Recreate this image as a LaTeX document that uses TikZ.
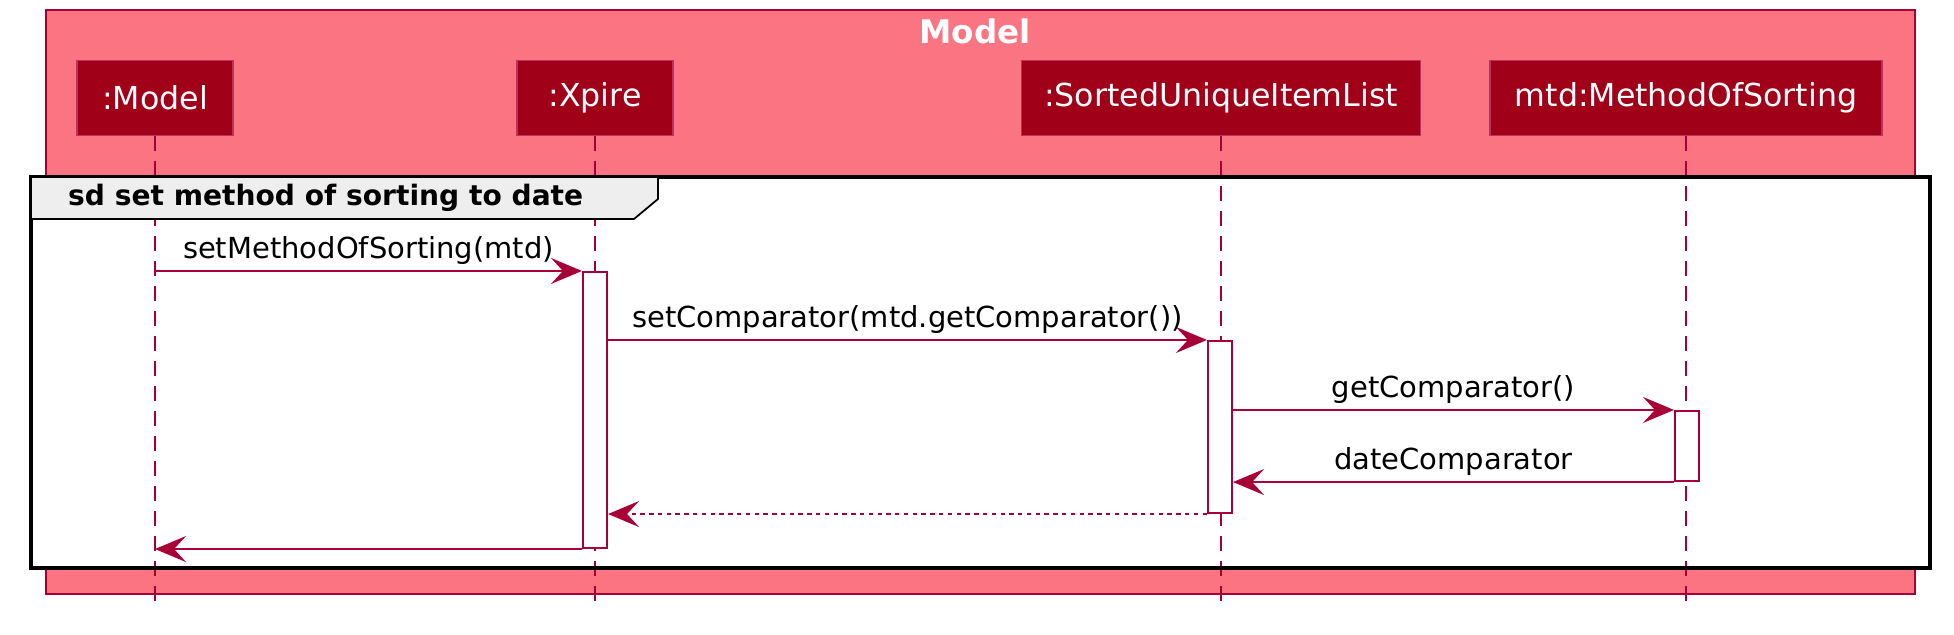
\documentclass[tikz,border=0pt]{standalone}
\usepackage{fontspec}
\setmainfont{DejaVu Sans}
\usepackage{tikz}
\usetikzlibrary{positioning,calc,arrows.meta}

\definecolor{umlred}{HTML}{A80036}
\definecolor{modelfill}{HTML}{FA7482}
\definecolor{partfill}{HTML}{A00018}
\definecolor{tabgray}{HTML}{EEEEEE}

\begin{document}
\begin{tikzpicture}[x=0.02cm,y=-0.02cm,
part/.style={rectangle,draw=umlred!80!white,fill=partfill,text=white,line width=0.8pt,
  minimum height=1.5cm,inner sep=0pt,font=\fontsize{18}{21}\selectfont},
life/.style={umlred,line width=1.2pt,dash pattern=on 0.3cm off 0.2cm},
act/.style={rectangle,draw=umlred,fill=white,line width=1.2pt,minimum width=0.48cm,inner sep=0pt},
msg/.style={umlred,line width=1.2pt,-{Stealth[length=0.62cm,width=0.52cm,inset=0.24cm]}},
ret/.style={msg,dash pattern=on 2.5pt off 2.5pt},
lbl/.style={text=black,font=\fontsize{16.5}{20}\selectfont,inner sep=3pt}]
\useasboundingbox (0,0) rectangle (1954,635);

% group box
\draw[umlred,line width=0.9pt,fill=modelfill] (46,10) rectangle (1915,594);
\node[text=white,font=\bfseries\fontsize{18.5}{22}\selectfont] (ttl) at (975,31) {Model};

% participants
\node[part,minimum width=3.12cm] (mdl) at (155,98) {:Model};
\node[part,minimum width=3.12cm] (xpr) at (595,98) {:Xpire};
\node[part,minimum width=7.98cm] (sul) at (1221,98) {:SortedUniqueItemList};
\node[part,minimum width=7.84cm] (mos) at (1686,98) {mtd:MethodOfSorting};
\coordinate (bot) at (0,604);

% sd frame
\fill[white] (31,177) rectangle (1930,568);
\draw[life] (mdl.south) -- (mdl |- bot);
\draw[life] (xpr.south) -- (xpr |- bot);
\draw[life] (sul.south) -- (sul |- bot);
\draw[life] (mos.south) -- (mos |- bot);
\draw[black,line width=2.4pt] (31,177) rectangle (1930,568);
\draw[black,line width=1pt,fill=tabgray] (31,177) -- (658,177) -- (658,199) -- (634,219) -- (31,219) -- cycle;
\node[anchor=west,font=\bfseries\fontsize{16}{19}\selectfont] (sd) at (62,198) {sd set method of sorting to date};

% activations
\node[act,minimum height=5.52cm] (xa) at (595,410) {};
\node[act,minimum height=3.44cm] (sa) at (1220,427) {};
\node[act,minimum height=1.4cm] (ma) at (1687,446) {};

% messages
\draw[msg] (mdl |- xa.north) -- (xa.north west) node[lbl,midway,above] {setMethodOfSorting(mtd)};
\draw[msg] (xa.east |- sa.north) -- (sa.north west) node[lbl,midway,above] {setComparator(mtd.getComparator())};
\draw[msg] (sa.east |- ma.north) -- (ma.north west) node[lbl,midway,above] {getComparator()};
\draw[msg] (ma.south west) -- (sa.east |- ma.south) node[lbl,midway,above] {dateComparator};
\draw[ret] (sa.south west) -- (xa.east |- sa.south);
\draw[msg] (xa.south west) -- (mdl |- xa.south);
\end{tikzpicture}
\end{document}
